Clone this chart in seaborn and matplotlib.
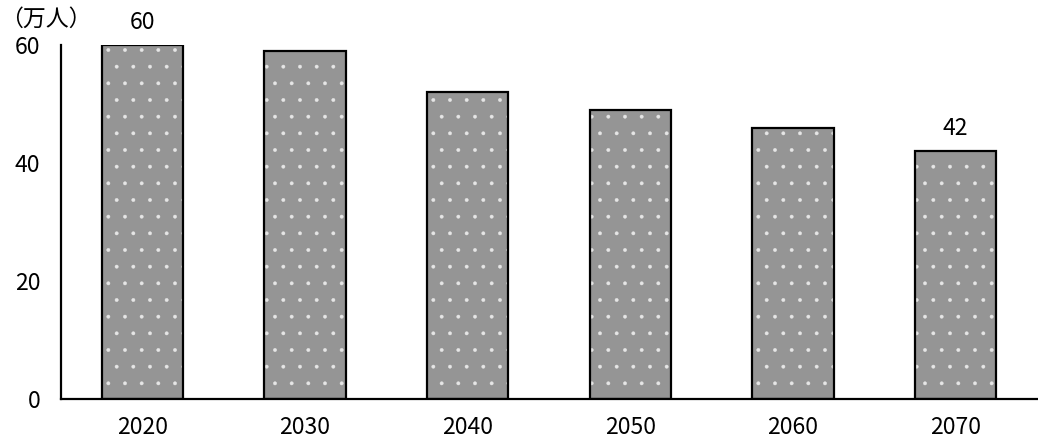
import matplotlib
matplotlib.use("Agg")
import matplotlib.pyplot as plt
import seaborn as sns
import pandas as pd
import numpy as np

years = ["2020", "2030", "2040", "2050", "2060", "2070"]
values = [60, 59, 52, 49, 46, 42]
shown_labels = ["60", "", "", "", "", "42"]
y_ticks = [0, 20, 40, 60]
unit_label = "（万人）"

sns.set_style("white")
plt.rcParams['font.family'] = ['Noto Sans CJK JP', 'DejaVu Sans']
plt.rcParams['hatch.linewidth'] = 0.3

df = pd.DataFrame({"year": years, "value": values})

fig = plt.figure(figsize=(10.38, 4.42), dpi=100)
ax = fig.add_axes([61/1038, 1 - 399/442, (1037-61)/1038, (399-45)/442])

sns.barplot(data=df, x="year", y="value", color="#959595", saturation=1,
            width=0.5, errorbar=None, edgecolor="#e6e6e6", linewidth=0,
            hatch=".", ax=ax)
sns.barplot(data=df, x="year", y="value", fill=False, color="black",
            width=0.5, errorbar=None, linewidth=1.6, ax=ax)

ax.bar_label(ax.containers[1], labels=shown_labels, padding=8, fontsize=16.5, color="black")

ax.set_xlim(-0.5, len(years) - 0.5)
ax.set_ylim(0, 60)
ax.set_yticks(y_ticks)
ax.set_xlabel("")
ax.set_ylabel("")

for s in ["top", "right"]:
    ax.spines[s].set_visible(False)
for s in ["left", "bottom"]:
    ax.spines[s].set_color("black")
    ax.spines[s].set_linewidth(1.6)

ax.set_xticks(np.arange(-0.5, len(years), 1.0), minor=True)
ax.tick_params(axis="x", which="major", length=0, pad=12, labelsize=16.5, colors="black")
ax.tick_params(axis="x", which="minor", direction="in", length=5, width=1.6, color="black")
ax.tick_params(axis="y", which="major", direction="in", length=5, width=1.6, color="black",
               pad=15, labelsize=16.5, labelcolor="black")

fig.text(0.0, 1 - 19/442, unit_label, fontsize=16.5, va="center", ha="left", color="black")

fig.savefig("out.png", dpi=100)
